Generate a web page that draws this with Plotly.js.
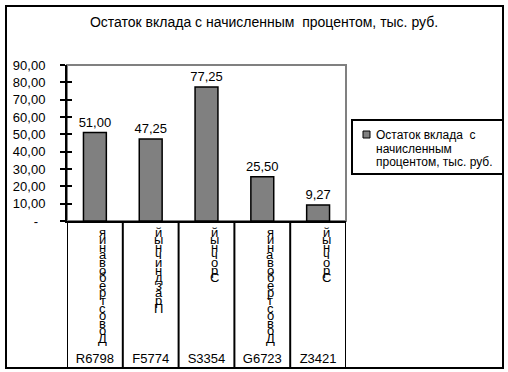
<!DOCTYPE html>
<html><head><meta charset="utf-8">
<script src="https://cdn.plot.ly/plotly-3.0.1.min.js"></script>
<style>html,body{margin:0;padding:0;background:#fff;}#chart{width:508px;height:372px;}</style>
</head><body><div id="chart"></div>
<script>
// ---- data ----
var codes = ["R6798", "F5774", "S3354", "G6723", "Z3421"];
var depositTypes = ["До востребования", "Праздничный", "Срочный", "До востребования", "Срочный"];
var balances = [51.00, 47.25, 77.25, 25.50, 9.27];
var yTickVals = [0, 10, 20, 30, 40, 50, 60, 70, 80, 90];
var yTickText = ["-\u00a0\u00a0", "10,00", "20,00", "30,00", "40,00", "50,00", "60,00", "70,00", "80,00", "90,00"];
var seriesNameLines = ["Остаток вклада  с", "начисленным", "процентом, тыс. руб."];
var chartTitle = "Остаток вклада с начисленным  процентом, тыс. руб.";

// ---- layout geometry (pixels) ----
var L = 67, R = 346, T = 65, B = 221, FW = 508, FH = 372;
var W = R - L, H = B - T;
function px2x(px) { return (px - L) / W; }
function py2y(py) { return (B - py) / H; }
var FONT = "Liberation Sans, Arial, sans-serif";
var BAR_COLOR = "#808080";

var xIdx = codes.map(function (c, i) { return i; });

var trace = {
  type: "bar",
  x: xIdx,
  y: balances,
  name: seriesNameLines.join(" "),
  marker: { color: BAR_COLOR, line: { color: "#000", width: 1.5 } },
  texttemplate: "%{y:.2f}",
  textposition: "outside",
  constraintext: "none",
  textfont: { family: FONT, size: 13, color: "#000" },
  cliponaxis: false,
  hoverinfo: "skip"
};
// helper trace for inner ticks on y axis
var tickTrace = { type: "scatter", x: [0], y: [0], yaxis: "y2", mode: "markers",
  marker: { opacity: 0 }, showlegend: false, hoverinfo: "skip" };

var shapes = [];
// plot area border (gray)
shapes.push({ type: "rect", xref: "paper", yref: "paper", x0: 0, x1: 1, y0: 0, y1: 1,
  line: { color: "#808080", width: 2 }, layer: "below" });
// outer chart border
shapes.push({ type: "rect", xref: "paper", yref: "paper",
  x0: px2x(6), x1: px2x(503), y0: py2y(368), y1: py2y(6),
  line: { color: "#000", width: 2 } });
// category grid lines below the axis
for (var i = 0; i <= codes.length; i++) {
  shapes.push({ type: "line", xref: "x", yref: "paper", x0: i - 0.5, x1: i - 0.5,
    y0: 0, y1: py2y(368), line: { color: "#000", width: 2 } });
}
// legend box and key
shapes.push({ type: "rect", xref: "paper", yref: "paper",
  x0: px2x(352), x1: px2x(503), y0: py2y(174), y1: py2y(120),
  line: { color: "#000", width: 2 }, fillcolor: "#fff" });
shapes.push({ type: "rect", xref: "paper", yref: "paper",
  x0: px2x(363), x1: px2x(370), y0: py2y(138), y1: py2y(131),
  line: { color: "#000", width: 1 }, fillcolor: BAR_COLOR });

var annotations = [];
// legend text
seriesNameLines.forEach(function (ln, k) {
  annotations.push({ xref: "paper", yref: "paper", x: px2x(374), y: py2y(135 + k * 13.5),
    text: ln, showarrow: false, xanchor: "left", yanchor: "middle",
    font: { family: FONT, size: 12, color: "#000" } });
});
// stacked letters of deposit type (upper category level)
var topY = 232, step = 7.6;
depositTypes.forEach(function (t, i) {
  var letters = t.replace(/\s/g, "").split("").reverse();
  letters.forEach(function (ch, k) {
    annotations.push({ xref: "x", yref: "paper", x: i, y: py2y(topY + k * step),
      text: ch, showarrow: false, xanchor: "center", yanchor: "middle", xshift: 8,
      font: { family: FONT, size: 13, color: "#000" } });
  });
});

var layout = {
  width: FW, height: FH,
  margin: { l: L, r: FW - R, t: T, b: FH - B, pad: 0 },
  paper_bgcolor: "#fff", plot_bgcolor: "#fff",
  separators: ", ",
  bargap: 0.59,
  showlegend: false,
  title: { text: chartTitle, font: { family: FONT, size: 14, color: "#000" },
    xref: "container", yref: "container", x: 264 / FW, y: 1 - 22 / FH, xanchor: "center", yanchor: "middle" },
  xaxis: {
    type: "linear", range: [-0.5, codes.length - 0.5], tickvals: xIdx, ticktext: codes,
    showgrid: false, zeroline: false, showline: true, linecolor: "#000", linewidth: 2,
    ticks: "", ticklabelstandoff: 124,
    tickfont: { family: FONT, size: 13, color: "#000" }, fixedrange: true
  },
  yaxis: {
    range: [0, 90], tickvals: yTickVals, ticktext: yTickText,
    showgrid: false, zeroline: false, showline: true, linecolor: "#000", linewidth: 2,
    ticks: "outside", ticklen: 5, tickwidth: 2, tickcolor: "#000", ticklabelstandoff: 12,
    tickfont: { family: FONT, size: 13, color: "#000" }, fixedrange: true
  },
  yaxis2: {
    range: [0, 90], overlaying: "y", side: "left", tickvals: yTickVals,
    showticklabels: false, showgrid: false, zeroline: false, showline: false,
    ticks: "inside", ticklen: 5, tickwidth: 2, tickcolor: "#000", fixedrange: true
  },
  shapes: shapes,
  annotations: annotations
};

Plotly.newPlot("chart", [trace, tickTrace], layout, { displayModeBar: false, staticPlot: true });
</script></body></html>
